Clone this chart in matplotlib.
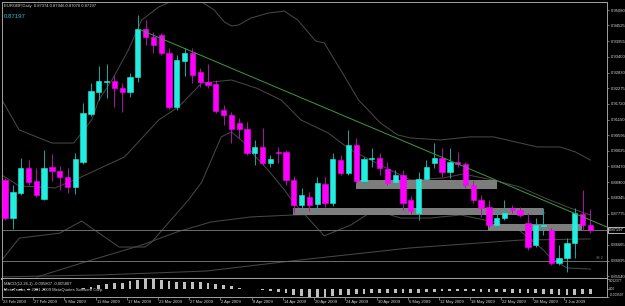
import matplotlib
matplotlib.use("Agg")
import matplotlib.pyplot as plt
import matplotlib.transforms as mtransforms
import numpy as np
import pandas as pd

plt.rcParams["font.family"] = ["Liberation Sans", "DejaVu Sans"]

# EURGBP daily candles, 23 Feb 2009 .. 8 Jun 2009
dates = pd.bdate_range("2009-02-23", periods=76)

opens = [0.8898, 0.8762, 0.8852, 0.8942, 0.8895, 0.8830, 0.8945, 0.8931, 0.8909, 0.8873,
         0.8963, 0.9135, 0.9214, 0.9250, 0.9253, 0.9228, 0.9214, 0.9268, 0.9440, 0.9411,
         0.9418, 0.9354, 0.9160, 0.9325, 0.9354, 0.9286, 0.9250, 0.9243, 0.9149, 0.9132,
         0.9103, 0.9081, 0.8995, 0.9017, 0.8959, 0.8999, 0.8999, 0.8898, 0.8809, 0.8838,
         0.8812, 0.8884, 0.8816, 0.8970, 0.8924, 0.9024, 0.8895, 0.8972, 0.8977, 0.8938,
         0.8891, 0.8916, 0.8827, 0.8780, 0.8902, 0.8959, 0.8977, 0.8927, 0.8963, 0.8956,
         0.8881, 0.8827, 0.8802, 0.8737, 0.8762, 0.8798, 0.8791, 0.8744, 0.8665, 0.8733,
         0.8719, 0.8601, 0.8619, 0.8673, 0.8777, 0.87374]
highs = [0.8906, 0.8881, 0.8977, 0.8970, 0.8942, 0.9006, 0.8992, 0.8949, 0.8942, 0.8995,
         0.9175, 0.9246, 0.9307, 0.9314, 0.9275, 0.9246, 0.9282, 0.9490, 0.9472, 0.9429,
         0.9426, 0.9372, 0.9347, 0.9372, 0.9372, 0.9300, 0.9314, 0.9257, 0.9167, 0.9142,
         0.9121, 0.9106, 0.9042, 0.9085, 0.8988, 0.9017, 0.9006, 0.8913, 0.8870, 0.8855,
         0.8909, 0.8909, 0.8995, 0.8988, 0.9078, 0.9049, 0.8981, 0.9013, 0.8995, 0.8963,
         0.8934, 0.8934, 0.8841, 0.8927, 0.8970, 0.9031, 0.9013, 0.9013, 0.8999, 0.8963,
         0.8898, 0.8845, 0.8827, 0.8791, 0.8827, 0.8809, 0.8802, 0.8780, 0.8762, 0.8798,
         0.8726, 0.8665, 0.8690, 0.8798, 0.8863, 0.87946]
lows = [0.8755, 0.8723, 0.8845, 0.8881, 0.8838, 0.8827, 0.8895, 0.8863, 0.8852, 0.8848,
        0.8956, 0.9128, 0.9185, 0.9193, 0.9160, 0.9142, 0.9196, 0.9250, 0.9383, 0.9354,
        0.9347, 0.9153, 0.9149, 0.9271, 0.9246, 0.9232, 0.9228, 0.9139, 0.9096, 0.9031,
        0.9049, 0.8988, 0.8952, 0.8952, 0.8945, 0.8959, 0.8881, 0.8780, 0.8791, 0.8787,
        0.8791, 0.8802, 0.8805, 0.8916, 0.8916, 0.8888, 0.8870, 0.8945, 0.8916, 0.8881,
        0.8873, 0.8791, 0.8777, 0.8755, 0.8891, 0.8942, 0.8909, 0.8906, 0.8945, 0.8870,
        0.8816, 0.8766, 0.8730, 0.8719, 0.8755, 0.8780, 0.8766, 0.8647, 0.8658, 0.8701,
        0.8594, 0.8594, 0.8568, 0.8619, 0.8719, 0.87070]
closes = [0.8762, 0.8855, 0.8942, 0.8891, 0.8845, 0.8942, 0.8931, 0.8909, 0.8873, 0.8974,
          0.9139, 0.9218, 0.9253, 0.9253, 0.9228, 0.9214, 0.9268, 0.9440, 0.9411, 0.9383,
          0.9354, 0.9160, 0.9329, 0.9354, 0.9275, 0.9250, 0.9239, 0.9146, 0.9132, 0.9081,
          0.9081, 0.8995, 0.9017, 0.8959, 0.8974, 0.8995, 0.8898, 0.8809, 0.8845, 0.8809,
          0.8888, 0.8816, 0.8974, 0.8924, 0.9024, 0.8895, 0.8974, 0.8977, 0.8942, 0.8888,
          0.8916, 0.8816, 0.8787, 0.8902, 0.8945, 0.8977, 0.8927, 0.8963, 0.8956, 0.8881,
          0.8827, 0.8798, 0.8737, 0.8762, 0.8780, 0.8791, 0.8773, 0.8658, 0.8737, 0.8737,
          0.8601, 0.8619, 0.8673, 0.8780, 0.8737, 0.87197]

# MACD(12,26,1) histogram
macd = [-0.0010, -0.0009, -0.0008, -0.0007, -0.0006, -0.0004, -0.0003, -0.0002, -0.0001, 0.0003,
        0.0012, 0.0024, 0.0046, 0.0059, 0.0080, 0.0080, 0.0101, 0.0110, 0.0123, 0.0123,
        0.0116, 0.0101, 0.0093, 0.0093, 0.0085, 0.0085, 0.0080, 0.0060, 0.0050, 0.0035,
        0.0020, 0.0008, -0.0002, -0.0008, -0.0020, -0.0035, -0.0050, -0.0065, -0.0078, -0.0090,
        -0.0095, -0.0092, -0.0082, -0.0072, -0.0065, -0.0060, -0.0055, -0.0050, -0.0048, -0.0045,
        -0.0042, -0.0042, -0.0045, -0.0042, -0.0038, -0.0032, -0.0027, -0.0022, -0.0018, -0.0022,
        -0.0027, -0.0032, -0.0036, -0.0038, -0.0038, -0.0042, -0.0044, -0.0048, -0.0052, -0.0053,
        -0.0058, -0.0066, -0.0069, -0.0066, -0.0062, -0.005807]

# indicator lines as (bar, price) knots
bb_up_x = [-0.4, 1.8, 6.0, 8.8, 11.1, 12.0, 13.7, 15.8, 17.5, 19.7, 21.7, 23.5, 25.2, 26.8,
           28.1, 29.0, 29.9, 31.5, 33.7, 35.8, 37.5, 39.8, 40.9, 43.0, 45.3, 48.1, 50.3,
           52.0, 55.8, 59.6, 62.6, 65.4, 68.2, 71.1, 73.1, 75.0]
bb_up_y = [0.9185, 0.9078, 0.9031, 0.9031, 0.9114, 0.9185, 0.9257, 0.9365, 0.9472, 0.9519,
           0.9544, 0.9555, 0.9537, 0.9508, 0.9465, 0.9451, 0.9454, 0.9479, 0.9497, 0.9504,
           0.9472, 0.9397, 0.9390, 0.9293, 0.9185, 0.9103, 0.9060, 0.9049, 0.9042, 0.9053,
           0.9053, 0.9035, 0.9017, 0.9017, 0.8999, 0.8970]
bb_mid_x = [-0.4, 1.8, 6.4, 9.5, 15.3, 19.7, 22.2, 25.2, 29.0, 32.2, 35.4, 37.9, 41.4, 44.3,
            48.1, 52.0, 56.2, 58.7, 62.6, 66.0, 69.5, 72.4, 75.0]
bb_mid_y = [0.8916, 0.8877, 0.8870, 0.8906, 0.8981, 0.9114, 0.9160, 0.9246, 0.9257, 0.9228,
            0.9185, 0.9114, 0.9067, 0.9006, 0.8952, 0.8898, 0.8906, 0.8920, 0.8898, 0.8873,
            0.8830, 0.8798, 0.8773]
bb_lo_x = [-0.4, 1.8, 7.0, 9.8, 12.4, 14.6, 17.9, 18.8, 20.9, 23.5, 25.2, 27.7, 29.0, 30.7,
           31.9, 33.7, 35.8, 36.7, 40.9, 44.3, 47.3, 50.7, 54.5, 58.4, 62.6, 66.0, 69.0,
           69.9, 72.0, 75.0]
bb_lo_y = [0.8612, 0.8690, 0.8708, 0.8751, 0.8701, 0.8658, 0.8658, 0.8676, 0.8744, 0.8827,
           0.8891, 0.9053, 0.9071, 0.9031, 0.8988, 0.8934, 0.8863, 0.8827, 0.8698, 0.8737,
           0.8791, 0.8762, 0.8762, 0.8773, 0.8748, 0.8716, 0.8647, 0.8619, 0.8583, 0.8579]
ma_a_x = [4.1, 10.2, 17.5, 22.0, 26.4, 31.5, 37.0, 44.3, 53.3, 63.5, 69.2]
ma_a_y = [0.8551, 0.8604, 0.8665, 0.8712, 0.8748, 0.8766, 0.8773, 0.8777, 0.8777, 0.8777, 0.8780]
ma_b_x = [-0.4, 12.4, 25.8, 37.9, 52.0, 66.0, 75.0]
ma_b_y = [0.8551, 0.8558, 0.8572, 0.8612, 0.8655, 0.8683, 0.8687]

# support / resistance rectangles
zone_x0 = [36.9, 45.0, 61.9]
zone_x1 = [69.0, 63.0, 73.9]
zone_lo = [0.8773, 0.8866, 0.8716]
zone_hi = [0.8798, 0.8898, 0.8741]

trend_x = [17.1, 77.1]
trend_y = [0.9440, 0.8730]

bid = 0.87197
fib382 = 0.8608

price_ticks = [0.95080, 0.94525, 0.93955, 0.93400, 0.92830, 0.92275, 0.91720, 0.91150,
               0.90595, 0.90025, 0.89470, 0.88900, 0.88345, 0.87775, 0.86665, 0.86095, 0.85540]

bull, bear = "#22eee0", "#ff00ff"
bull_wick, bear_wick = "#1aa8a8", "#b010b0"
frame = "#a0a0a0"
txt = "#d8d8d8"
band = "#464646"

W, H = 625, 306
fig = plt.figure(figsize=(W / 100, H / 100), dpi=100, facecolor="black")
ax = fig.add_axes([2 / W, 1 - 279 / H, 605 / W, 277 / H], facecolor="black")
ax2 = fig.add_axes([2 / W, 1 - 297 / H, 605 / W, 18 / H], facecolor="black", sharex=ax)

x = np.arange(len(opens))
o, h, l, c = (np.array(v) for v in (opens, highs, lows, closes))
up = c >= o

# indicator lines (behind the rectangles)
for xs, ys in [(bb_up_x, bb_up_y), (bb_mid_x, bb_mid_y), (bb_lo_x, bb_lo_y),
               (ma_a_x, ma_a_y), (ma_b_x, ma_b_y)]:
    ax.plot(xs, ys, color=band, lw=0.75, zorder=1)
ax.axhline(bid, color="#6e6e6e", lw=0.7, zorder=1)
ax.axhline(fib382, color="#6e6e6e", lw=0.7, zorder=1)

for x0, x1, lo, hi in zip(zone_x0, zone_x1, zone_lo, zone_hi):
    ax.fill_between([x0, x1], lo, hi, color="#7d7d7d", lw=0, zorder=2)

ax.vlines(x[up], l[up], h[up], color=bull_wick, lw=0.7, zorder=3)
ax.vlines(x[~up], l[~up], h[~up], color=bear_wick, lw=0.7, zorder=3)
ax.bar(x[up], c[up] - o[up], bottom=o[up], width=0.68, color=bull,
       edgecolor=bull, lw=0.4, zorder=4)
ax.bar(x[~up], o[~up] - c[~up], bottom=c[~up], width=0.68, color=bear,
       edgecolor=bear, lw=0.4, zorder=4)

ax.plot(trend_x, trend_y, color="#3f9a3a", lw=0.7, zorder=5)
ax.text(75.7, fib382 + 0.0002, "38.2", color="#808080", fontsize=3, va="bottom", ha="left")

ax.set_xlim(-0.13, 77.14)
ax.set_ylim(0.85434, 0.95367)
ax.yaxis.tick_right()
ax.set_yticks(price_ticks)
ax.set_yticklabels([f"{t:.5f}" for t in price_ticks])
ax.tick_params(axis="y", colors=frame, labelcolor=txt, labelsize=3, length=1.5, width=0.5, pad=1)
ax.tick_params(axis="x", bottom=False, labelbottom=False)
for s in ax.spines.values():
    s.set_color(frame)
    s.set_linewidth(0.7)
ax.spines["bottom"].set_linewidth(1.5)

# MACD sub-window
ax2.bar(x, macd, width=0.35, color="#c0c0c0", zorder=2)
ax2.set_ylim(-0.0095, 0.0124)
ax2.yaxis.tick_right()
ax2.set_yticks([0.012377, 0.0, -0.0095])
ax2.set_yticklabels(["0.012377", "0.00", "-0.009507"])
for lab, va in zip(ax2.get_yticklabels(), ["top", "center", "bottom"]):
    lab.set_va(va)
ax2.tick_params(axis="y", colors=frame, labelcolor=txt, labelsize=2.3, length=1.2, width=0.5, pad=0.5)
for s in ax2.spines.values():
    s.set_color(frame)
    s.set_linewidth(0.7)
ax2.spines["top"].set_visible(False)

date_idx = list(range(0, len(dates), 4))
ax2.set_xticks([i - 0.4 for i in date_idx])
ax2.set_xticklabels([f"{d.day} {d:%b %Y}" for d in dates[date_idx]], ha="left")
ax2.tick_params(axis="x", colors=frame, labelcolor=txt, labelsize=3, length=2.2, width=0.5, pad=0.3)
shift = mtransforms.ScaledTranslation(1 / 100, 0, fig.dpi_scale_trans)
for lab in ax2.get_xticklabels():
    lab.set_transform(lab.get_transform() + shift)

# overlay texts
fig.text(4 / W, 1 - 6 / H, "EURGBP,Daily  0.87374 0.87946 0.87070 0.87197",
         color=txt, fontsize=3, va="center")
fig.text(4 / W, 1 - 17 / H, "0.87197", color="#22c4d4", fontsize=4.3, va="center")
fig.text(4 / W, 1 - 284 / H, "MACD(12,26,1) -0.005807 -0.005807", color=txt, fontsize=3, va="center")
fig.text(4 / W, 1 - 290 / H, "MetaTrader, \u00a9 2001-2009 MetaQuotes Software Corp.",
         color=txt, fontsize=3, va="center")
fig.text(609 / W, 1 - 230 / H, "0.87197", color="white", fontsize=3, va="center",
         bbox=dict(facecolor="black", edgecolor="white", lw=0.5, pad=0.6))

fig.savefig("out.png", dpi=100, facecolor="black")
